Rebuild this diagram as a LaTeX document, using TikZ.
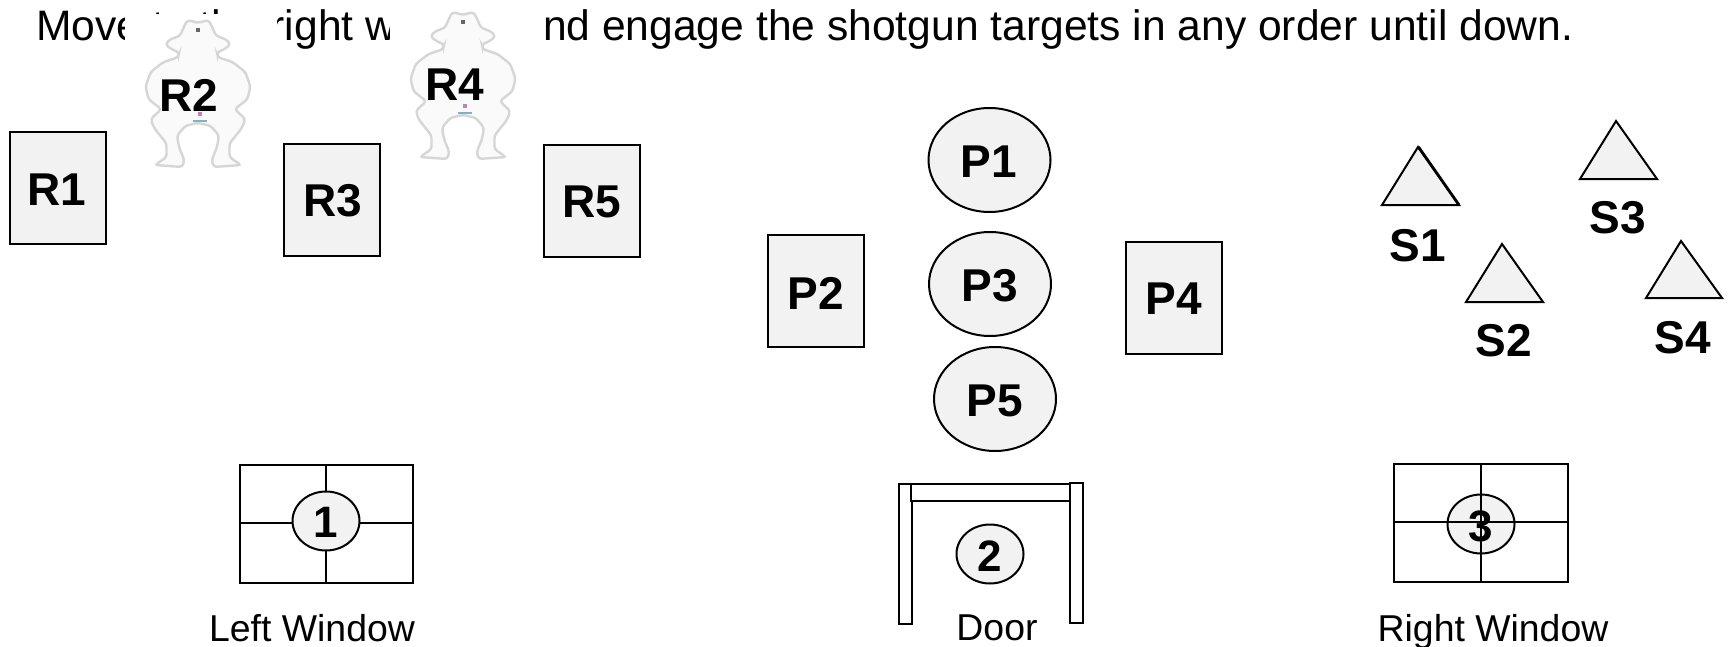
\documentclass[tikz,border=0pt]{standalone}
\usepackage{fontspec}
\setmainfont{Liberation Sans}
\usetikzlibrary{shapes.geometric}
\definecolor{shapefill}{HTML}{F2F2F2}
\tikzset{
  x=0.5pt,y=-0.5pt,
  outlined/.style={draw=black,line width=1pt,fill=shapefill,inner sep=0pt},
  boxshape/.style={outlined,rectangle,minimum width=48pt,minimum height=56pt},
  bigoval/.style={outlined,ellipse,minimum width=61pt,minimum height=52pt},
  smalloval/.style={outlined,ellipse,minimum width=33.5pt,minimum height=29.5pt},
  tag/.style={font=\bfseries\fontsize{23}{23}\selectfont,text=black,inner sep=0pt},
  numtag/.style={font=\bfseries\fontsize{22}{22}\selectfont,text=black,inner sep=0pt},
  caption/.style={font=\fontsize{18.7}{18.7}\selectfont,text=black,inner sep=0pt,anchor=base},
  tri/.style={draw=black,line width=1pt,fill=shapefill,line join=miter},
  frame/.style={draw=black,line width=0.9pt},
  post/.style={draw=black,line width=1pt,fill=white},
  mask/.style={fill=white,draw=none},
}
\newcommand{\sketchoutline}{%
      (0,4) -- (-10,1) -- (-13,7) -- (-17,17) -- (-27,21) -- (-31,26) -- (-25,31) -- (-18,34)
      -- (-19,39) -- (-33,44) -- (-45,54) -- (-50,69) -- (-47,82) -- (-35,92) -- (-40,97)
      -- (-45,102) -- (-42,111) -- (-30,127) -- (-30,141) -- (-41,149) -- (-15,151)
      -- (-13,144) -- (-18,131) -- (-20,119) -- (-12,109) -- (0,106)
      -- (12,109) -- (20,119) -- (18,131) -- (13,144) -- (15,151) -- (41,149)
      -- (30,141) -- (30,127) -- (42,111) -- (45,102) -- (40,97) -- (35,92)
      -- (47,82) -- (50,69) -- (45,54) -- (33,44) -- (19,39) -- (18,34) -- (25,31) -- (31,26)
      -- (27,21) -- (17,17) -- (13,7) -- (10,1) -- cycle}
\newcommand{\silhouette}[2]{%
  \begin{scope}[shift={(#1,#2)},xscale=1.05,yscale=0.98]
    \path[fill=black!2,draw=black!16,line width=1.2pt,rounded corners=1.5pt] \sketchoutline;
    \fill[black!60] (-2,9) rectangle (2,13);
    \fill[red!50!blue!50] (0,95) rectangle (4,99);
    \fill[cyan!60!black!60] (-5,103) rectangle (9,105);
  \end{scope}}
\begin{document}
\begin{tikzpicture}
\useasboundingbox[fill=white] (0,0) rectangle (1728,647);
% instruction line
\node[anchor=base west,inner sep=0pt,font=\fontsize{21.3}{22}\selectfont] (instr) at (36,41)
  {Move to the right window and engage the shotgun targets in any order until down.};
% target pictures hide parts of the line
\fill[mask] (125,14) rectangle (277,175);
\fill[mask] (390,0) rectangle (544,165);
\silhouette{198}{19}
\silhouette{463}{11}
\node[tag] (r2) at (189,95) {R2};
\node[tag] (r4) at (455,85) {R4};
% rifle targets
\node[boxshape] (r1) at (58,188) {};
\node[tag] at (57,190) {R1};
\node[boxshape] (r3) at (332,199.5) {};
\node[tag] at (333,201) {R3};
\node[boxshape] (r5) at (592,200.5) {};
\node[tag] at (592,202) {R5};
% pistol targets
\node[bigoval] (p1) at (989.5,160) {};
\node[tag] at (989,162) {P1};
\node[bigoval] (p3) at (990,284) {};
\node[tag] at (990,286) {P3};
\node[bigoval] (p5) at (995,399) {};
\node[tag] at (995,401) {P5};
\node[boxshape] (p2) at (816,291) {};
\node[tag] at (816,293) {P2};
\node[boxshape] (p4) at (1174,298) {};
\node[tag] at (1174,299) {P4};
% shotgun targets
\draw[tri] (1418,147) -- (1459,205) -- (1382,205) -- cycle;
\draw[black,line width=1.4pt] (1418.5,147) -- (1459,205);
\draw[tri] (1616,121) -- (1657,179) -- (1580,179) -- cycle;
\draw[tri] (1502,244) -- (1543,302) -- (1466,302) -- cycle;
\draw[tri] (1681,241) -- (1722,298) -- (1646,298) -- cycle;
\node[tag] (s1) at (1418,246) {S1};
\node[tag] (s3) at (1618,218) {S3};
\node[tag] (s2) at (1504,341) {S2};
\node[tag] (s4) at (1683,338) {S4};
% left window
\draw[frame] (240,465) rectangle (413,583);
\draw[frame] (326,465) -- (326,583) (240,523) -- (413,523);
\node[smalloval] (w1) at (326,521) {};
\node[numtag] at (326,522) {1};
\node[caption] (lw) at (312,641) {Left Window};
% door
\draw[post] (899,484) rectangle (912,624);
\draw[post] (1070,483) rectangle (1083,623);
\draw[post] (911,484) rectangle (1070,501);
\draw[draw=black,line width=1.4pt] (911,484) -- (911,501);
\node[smalloval] (w2) at (990,554) {};
\node[numtag] at (990,556) {2};
\node[caption] (dr) at (997,640) {Door};
% right window
\node[smalloval] (w3) at (1481,524) {};
\draw[frame] (1394,464) rectangle (1568,582);
\draw[frame] (1481,464) -- (1481,582) (1394,522) -- (1568,522);
\node[numtag] at (1481,526) {3};
\node[caption] (rw) at (1493,641) {Right Window};
\end{tikzpicture}
\end{document}
